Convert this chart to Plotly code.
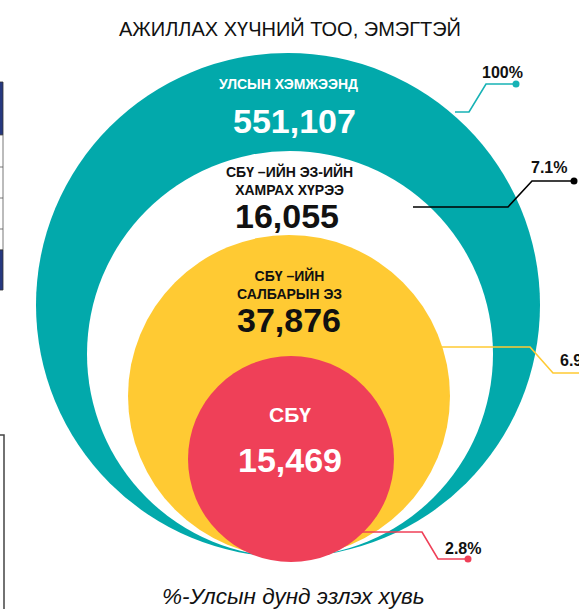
import plotly.graph_objects as go

W, H = 579, 609

# --- data -------------------------------------------------------------
title = "АЖИЛЛАХ ХҮЧНИЙ ТОО, ЭМЭГТЭЙ"
footnote = "%-Улсын дунд эзлэх хувь"

level_names = [
    "УЛСЫН ХЭМЖЭЭНД",
    "СБҮ –ИЙН ЭЗ-ИЙН<br>ХАМРАХ ХҮРЭЭ",
    "СБҮ –ИЙН<br>САЛБАРЫН ЭЗ",
    "СБҮ",
]
level_counts = [551107, 16055, 37876, 15469]
level_shares = [100, 7.1, 6.9, 2.8]

# --- styling / layout geometry (pixel space, y downwards) -------------
disc_colors = ["#02A9AB", "#FFFFFF", "#FFCA33", "#EF4058"]
text_colors = ["#FFFFFF", "#111111", "#111111", "#FFFFFF"]
leader_colors = ["#17B2B5", "#000000", "#FFCA33", "#EF4058"]

# centre x, centre y, radius of each nested disc
discs = [
    (288, 305, 252),
    (290, 354, 203),
    (289, 396, 161),
    (291, 459, 103),
]
# x / y of name label, y of count label
name_x = [288, 289, 289, 290]
count_x = [294, 287, 289, 290]
name_y = [84, 180, 284, 414]
count_y = [121, 216, 320, 460]
name_size = [14, 14, 14, 21]

# leader polylines (x list, y list)
leaders = [
    ([455, 469, 486, 516], [112, 112, 84, 84]),
    ([413, 508, 532, 574], [207, 207, 181, 181]),
    ([442, 530, 553, 640], [347, 347, 373, 373]),
    ([360, 422, 438, 468], [532, 532, 559, 559]),
]
share_pos = [(502, 72, "center"), (549, 167, "center"),
             (558, 360, "left"), (463, 548, "center")]

fig = go.Figure()

shapes = []
for (cx, cy, r), col in zip(discs, disc_colors):
    shapes.append(dict(type="circle", xref="x", yref="y",
                       x0=cx - r, x1=cx + r, y0=cy - r, y1=cy + r,
                       fillcolor=col, line=dict(width=0), layer="below"))

# fragments of neighbouring content at the left border
shapes += [
    dict(type="rect", xref="x", yref="y", x0=-2, x1=3, y0=82, y1=135,
         fillcolor="#26387F", line=dict(width=0.8, color="#333")),
    dict(type="rect", xref="x", yref="y", x0=-2, x1=3, y0=135, y1=250,
         fillcolor="#FFFFFF", line=dict(width=0.8, color="#555")),
    dict(type="line", xref="x", yref="y", x0=-2, x1=3, y0=167, y1=167,
         line=dict(width=0.8, color="#555")),
    dict(type="line", xref="x", yref="y", x0=-2, x1=3, y0=198, y1=198,
         line=dict(width=0.8, color="#555")),
    dict(type="line", xref="x", yref="y", x0=-2, x1=3, y0=229, y1=229,
         line=dict(width=0.8, color="#555")),
    dict(type="rect", xref="x", yref="y", x0=-2, x1=3, y0=250, y1=290,
         fillcolor="#26387F", line=dict(width=0.8, color="#333")),
    dict(type="rect", xref="x", yref="y", x0=-5, x1=4, y0=435, y1=620,
         fillcolor="rgba(0,0,0,0)", line=dict(width=1.5, color="#444")),
]

for (xs, ys), col in zip(leaders, leader_colors):
    fig.add_trace(go.Scatter(x=xs, y=ys, mode="lines",
                             line=dict(color=col, width=1.6),
                             hoverinfo="skip", showlegend=False))
    fig.add_trace(go.Scatter(x=[xs[-1]], y=[ys[-1]], mode="markers",
                             marker=dict(color=col, size=7),
                             hoverinfo="skip", showlegend=False))

font = "Liberation Sans, Arial, sans-serif"
ann = []
ann.append(dict(x=290, y=28, text=title, showarrow=False,
                font=dict(family=font, size=20, color="#111")))
ann.append(dict(x=293, y=596, text=f"<i>{footnote}</i>", showarrow=False,
                font=dict(family=font, size=22.5, color="#111")))

for i in range(4):
    ann.append(dict(x=name_x[i], y=name_y[i], text=f"<b>{level_names[i]}</b>",
                    showarrow=False,
                    font=dict(family=font, size=name_size[i], color=text_colors[i])))
    ann.append(dict(x=count_x[i], y=count_y[i], text=f"<b>{level_counts[i]:,}</b>",
                    showarrow=False,
                    font=dict(family=font, size=34, color=text_colors[i])))
    sx, sy, anchor = share_pos[i]
    ann.append(dict(x=sx, y=sy, text=f"<b>{level_shares[i]:g}%</b>",
                    showarrow=False, xanchor=anchor,
                    font=dict(family=font, size=16, color="#111")))

fig.update_layout(
    width=W, height=H,
    margin=dict(l=0, r=0, t=0, b=0),
    paper_bgcolor="white", plot_bgcolor="white",
    xaxis=dict(range=[0, W], visible=False, fixedrange=True),
    yaxis=dict(range=[H, 0], visible=False, fixedrange=True),
    shapes=shapes, annotations=ann,
    showlegend=False,
)

fig.write_html("out.html")
